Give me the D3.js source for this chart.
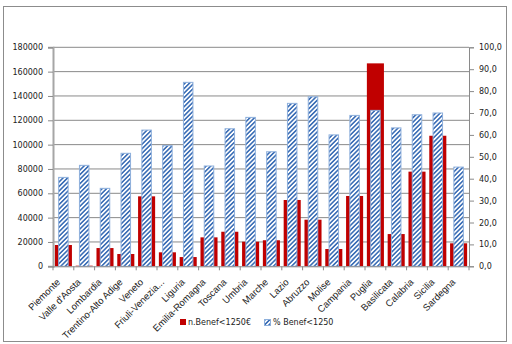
<!DOCTYPE html>
<html><head><meta charset="utf-8">
<script src="https://cdn.jsdelivr.net/npm/d3@7"></script>
<style>body{margin:0;background:#fff}svg{display:block}</style>
</head><body>
<script>
const regions = ["Piemonte","Valle d'Aosta","Lombardia","Trentino-Alto Adige","Veneto","Friuli-Venezia...","Liguria","Emilia-Romagna","Toscana","Umbria","Marche","Lazio","Abruzzo","Molise","Campania","Puglia","Basilicata","Calabria","Sicilia","Sardegna"];
const nBenef = [17500,500,15000,10100,57500,11500,7600,23800,28400,20200,21400,54500,38300,14200,57800,166800,26500,77800,107300,18900];
const pctBenef = [40.6,46.1,35.6,51.6,62.2,55.1,84.0,45.8,62.8,68.0,52.3,74.4,77.4,60.0,68.9,71.2,63.2,69.2,70.0,45.3];
const leftTicks = [0,20000,40000,60000,80000,100000,120000,140000,160000,180000];
const rightTicks = [0,10,20,30,40,50,60,70,80,90,100];
const legendLabels = ["n.Benef<1250€","% Benef<1250"];

const W=512,H=344, L=53, R=469, T=47.3, B=266.3;
const svg=d3.select("body").append("svg").attr("width",W).attr("height",H);
const defs=svg.append("defs");
const pat=defs.append("pattern").attr("id","hatch").attr("patternUnits","userSpaceOnUse")
  .attr("width",3.2).attr("height",3.2).attr("patternTransform","rotate(45)");
pat.append("rect").attr("width",3.2).attr("height",3.2).attr("fill","#fff");
pat.append("rect").attr("width",1.6).attr("height",3.2).attr("fill","#3d6fb6");

svg.append("rect").attr("x",3.5).attr("y",6.5).attr("width",503).attr("height",335)
  .attr("fill","#fff").attr("stroke","#8c8c8c");

const x=d3.scaleBand().domain(regions).range([L,R]).paddingInner(0.18).paddingOuter(0.09);
const yL=d3.scaleLinear().domain([0,180000]).range([B,T]);
const yR=d3.scaleLinear().domain([0,100]).range([B,T]);

// gridlines
svg.append("g").selectAll("line").data(leftTicks.slice(1)).join("line")
  .attr("x1",L).attr("x2",R).attr("y1",d=>yL(d)).attr("y2",d=>yL(d))
  .attr("stroke","#8a8a8a").attr("stroke-width",1);

// red bars
svg.append("g").selectAll("rect").data(regions).join("rect")
  .attr("x",d=>x(d)).attr("width",x.bandwidth())
  .attr("y",(d,i)=>yL(nBenef[i])).attr("height",(d,i)=>B-yL(nBenef[i]))
  .attr("fill","#c00000");

// blue hatched bars
const bw=9.5;
svg.append("g").selectAll("rect").data(regions).join("rect")
  .attr("x",d=>x(d)+x.bandwidth()/2-bw/2).attr("width",bw)
  .attr("y",(d,i)=>yR(pctBenef[i])).attr("height",(d,i)=>B-yR(pctBenef[i]))
  .attr("fill","url(#hatch)").attr("stroke","#8eb0dc").attr("stroke-width",1);

// left axis
const ga=svg.append("g").attr("transform",`translate(${L},0)`)
  .call(d3.axisLeft(yL).tickValues(leftTicks).tickFormat(d3.format("d")).tickSize(5).tickPadding(5));
ga.select(".domain").attr("stroke","#a6a6a6").attr("stroke-width",2);
ga.selectAll(".tick line").attr("stroke","#8a8a8a");
ga.selectAll("text").attr("font-family","DejaVu Sans").attr("font-size",8).attr("fill","#222");

// right axis
const gr=svg.append("g").attr("transform",`translate(${R},0)`)
  .call(d3.axisRight(yR).tickValues(rightTicks).tickFormat(d=>d3.format(".1f")(d).replace(".",",")).tickSize(5).tickPadding(5));
gr.select(".domain").attr("stroke","#8a8a8a");
gr.selectAll(".tick line").attr("stroke","#8a8a8a");
gr.selectAll("text").attr("font-family","DejaVu Sans").attr("font-size",8).attr("fill","#222");

// bottom axis
svg.append("line").attr("x1",L).attr("x2",R).attr("y1",B+0.5).attr("y2",B+0.5).attr("stroke","#8a8a8a");
const step=x.step();
svg.append("g").selectAll("line").data(d3.range(regions.length+1)).join("line")
  .attr("x1",i=>L+i*step).attr("x2",i=>L+i*step).attr("y1",B).attr("y2",B+4).attr("stroke","#8a8a8a");
svg.append("g").selectAll("text").data(regions).join("text")
  .attr("transform",d=>`translate(${x(d)+x.bandwidth()/2-5},${B+14}) rotate(-45)`)
  .attr("text-anchor","end").attr("dy","0.35em")
  .attr("font-family","Liberation Sans").attr("font-size",9.5).attr("fill","#222").text(d=>d);

// legend
const lg=svg.append("g").attr("font-family","DejaVu Sans").attr("font-size",8).attr("fill","#222");
lg.append("rect").attr("x",180).attr("y",319).attr("width",6).attr("height",6).attr("fill","#c00000");
lg.append("text").attr("x",188).attr("y",322).attr("dy","0.35em").text(legendLabels[0]);
lg.append("rect").attr("x",264.5).attr("y",319.5).attr("width",6).attr("height",6).attr("fill","url(#hatch)").attr("stroke","#8eb0dc");
lg.append("text").attr("x",273).attr("y",322).attr("dy","0.35em").text(legendLabels[1]);
</script>
</body></html>
